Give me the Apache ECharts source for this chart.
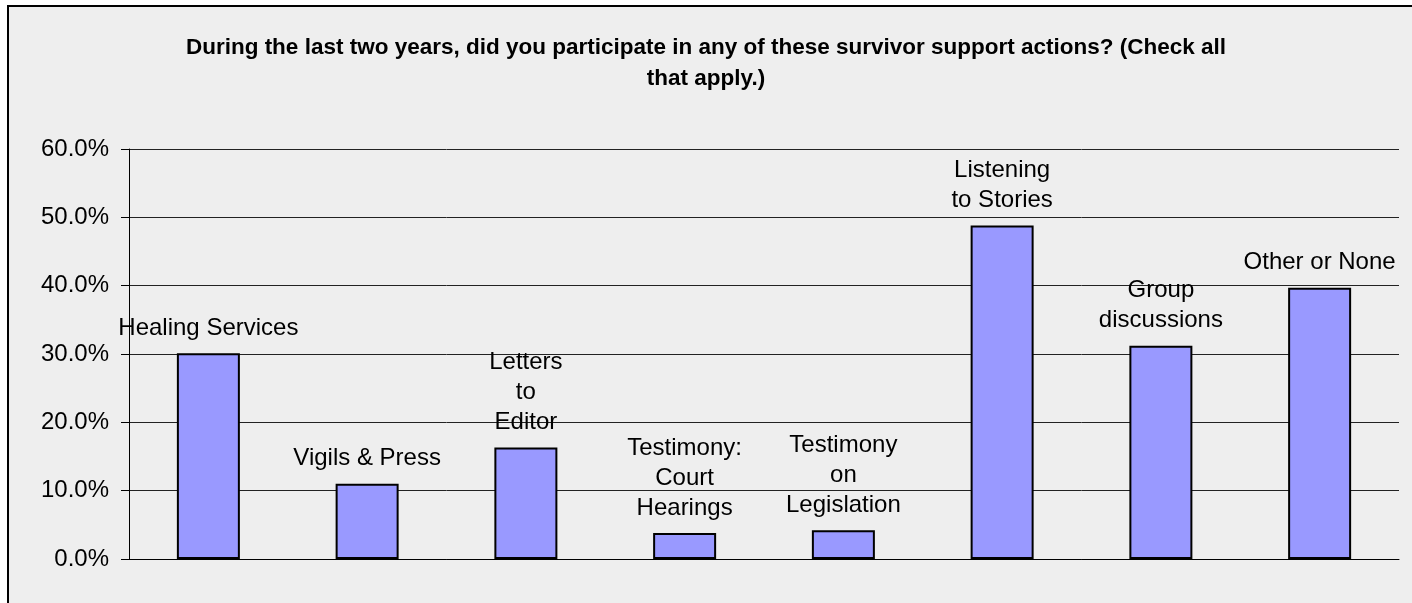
<!DOCTYPE html>
<html>
	<head>
		<meta charset="utf-8">
		<title>Survivor support actions</title>
		<script src="https://cdn.jsdelivr.net/npm/echarts@6/dist/echarts.min.js" type="text/javascript" charset="utf-8"></script>
		<style>
			html, body { margin: 0; padding: 0; background: #ffffff; }
			#main { width: 1412px; height: 603px; }
		</style>
	</head>
	<body>
		<div id="main"></div>
		<script type="text/javascript">
			// categories, wrapped the way the labels sit over the bars
			var categories = [
				'Healing Services',
				'Vigils & Press',
				'Letters\nto\nEditor',
				'Testimony:\nCourt\nHearings',
				'Testimony\non\nLegislation',
				'Listening\nto Stories',
				'Group\ndiscussions',
				'Other or None'
			]
			// percent of respondents
			var values = [30.1, 11.0, 16.3, 3.8, 4.2, 48.8, 31.2, 39.7]
			var titleText = 'During the last two years, did you participate in any of these survivor support actions? (Check all\nthat apply.)'

			var font = 'Liberation Sans, Arial, sans-serif'
			var chartDom = document.getElementById('main')
			var myChart = echarts.init(chartDom)

			var option = {
				backgroundColor: '#ffffff',
				animation: false,
				graphic: [
					{
						// chart area frame (the right and bottom edges are cut off)
						type: 'rect',
						z: -10,
						silent: true,
						shape: { x: 8, y: 6, width: 1430, height: 640 },
						style: { fill: '#eeeeee', stroke: '#000000', lineWidth: 2 }
					},
					{
						// title, centred line by line
						type: 'text',
						silent: true,
						x: 706,
						y: 32,
						style: {
							text: titleText,
							align: 'center',
							verticalAlign: 'top',
							fontFamily: font,
							fontSize: 22.5,
							fontWeight: 'bold',
							lineHeight: 31,
							fill: '#000000'
						}
					}
				],
				grid: {
					left: 129,
					right: 13,
					top: 149,
					bottom: 44,
					containLabel: false
				},
				xAxis: {
					type: 'category',
					data: categories,
					axisLine: { lineStyle: { color: '#000000', width: 1 } },
					axisTick: { show: false },
					axisLabel: { show: false }
				},
				yAxis: {
					type: 'value',
					min: 0,
					max: 60,
					interval: 10,
					axisLine: { show: true, lineStyle: { color: '#000000', width: 1 } },
					axisTick: { show: true, length: 8, lineStyle: { color: '#000000' } },
					axisLabel: {
						margin: 20,
						fontFamily: font,
						fontSize: 24,
						color: '#000000',
						formatter: function (v) { return v.toFixed(1) + '%' }
					},
					splitLine: { lineStyle: { color: '#222222', width: 1 } }
				},
				series: [
					{
						type: 'bar',
						data: values,
						barWidth: 63,
						itemStyle: {
							color: '#9999ff',
							borderColor: '#000000',
							borderWidth: 2
						},
						label: {
							show: true,
							position: 'top',
							distance: 10,
							fontFamily: font,
							fontSize: 24,
							lineHeight: 30,
							color: '#000000',
							align: 'center',
							formatter: function (p) { return p.name }
						}
					}
				]
			}

			myChart.setOption(option)
		</script>
	</body>
</html>
